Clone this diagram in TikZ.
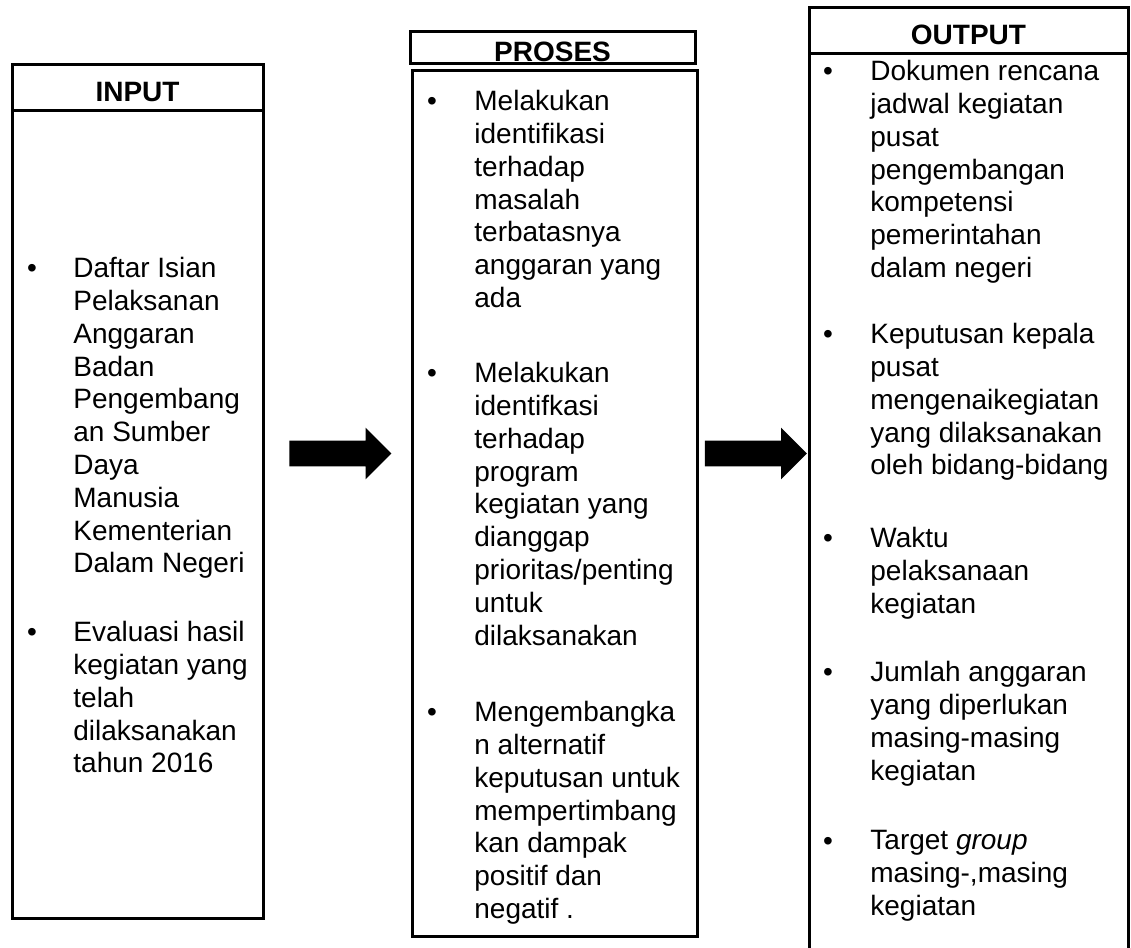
\documentclass[tikz,border=0pt]{standalone}
\usepackage{fontspec}
\setmainfont{Liberation Sans}
\usetikzlibrary{shapes.arrows}

\begin{document}
\begin{tikzpicture}[x=0.5pt, y=-0.5pt,
  box/.style={draw, line width=1.5pt, inner sep=0pt},
  headbox/.style={box, font=\fontsize{14pt}{16pt}\selectfont\bfseries, text height=14.6pt, text depth=0pt},
  itemtxt/.style={anchor=north west, align=left, inner sep=0pt, font=\fontsize{14pt}{16.4pt}\selectfont},
  dot/.style={anchor=base, inner sep=0pt, font=\fontsize{14pt}{16.4pt}\selectfont},
  blockarr/.style={single arrow, fill=black, inner sep=0pt, text height=12.5pt, text depth=0pt, minimum height=51pt, single arrow head extend=6.5pt}
]
\useasboundingbox (0,0) rectangle (1131,948);

% the three columns
\node[box, minimum width=125.5pt, minimum height=404pt] (inbody) at (137.5,514) {};
\node[headbox, minimum width=125.5pt, minimum height=23pt] (inhead) at (137.5,87) {INPUT};
\node[headbox, minimum width=142.5pt, minimum height=16pt] (prohead) at (552.5,47) {PROSES};
\node[box, minimum width=142.5pt, minimum height=433pt] (probody) at (554.5,503) {};
\node[box, minimum width=159.5pt, minimum height=458.5pt] (outbody) at (968.5,511.5) {};
\node[headbox, minimum width=159.5pt, minimum height=23pt] (outhead) at (968.5,30) {OUTPUT};

% input items
\node[dot] (indot1) at (32,277) {\textbullet};
\node[itemtxt] (initem1) at (73,257) {Daftar Isian\\Pelaksanan\\Anggaran\\Badan\\Pengembang\\an Sumber\\Daya\\Manusia\\Kementerian\\Dalam Negeri};
\node[dot] (indot2) at (32,641) {\textbullet};
\node[itemtxt] (initem2) at (73,621) {Evaluasi hasil\\kegiatan yang\\telah\\dilaksanakan\\tahun 2016};

% proses items
\node[dot] (prodot1) at (432,110) {\textbullet};
\node[itemtxt] (proitem1) at (474,90) {Melakukan\\identifikasi\\terhadap\\masalah\\terbatasnya\\anggaran yang\\ada};
\node[dot] (prodot2) at (432,382) {\textbullet};
\node[itemtxt] (proitem2) at (474,362) {Melakukan\\identifkasi\\terhadap\\program\\kegiatan yang\\dianggap\\prioritas/penting\\untuk\\dilaksanakan};
\node[dot] (prodot3) at (432,721) {\textbullet};
\node[itemtxt] (proitem3) at (474,701) {Mengembangka\\n alternatif\\keputusan untuk\\mempertimbang\\kan dampak\\positif dan\\negatif .};

% output items
\node[dot] (outdot1) at (828,80) {\textbullet};
\node[itemtxt] (outitem1) at (870,60) {Dokumen rencana\\jadwal kegiatan\\pusat\\pengembangan\\kompetensi\\pemerintahan\\dalam negeri};
\node[dot] (outdot2) at (828,343) {\textbullet};
\node[itemtxt] (outitem2) at (870,323) {Keputusan kepala\\pusat\\mengenaikegiatan\\yang dilaksanakan\\oleh bidang-bidang};
\node[dot] (outdot3) at (828,547) {\textbullet};
\node[itemtxt] (outitem3) at (870,527) {Waktu\\pelaksanaan\\kegiatan};
\node[dot] (outdot4) at (828,681) {\textbullet};
\node[itemtxt] (outitem4) at (870,661) {Jumlah anggaran\\yang diperlukan\\masing-masing\\kegiatan};
\node[dot] (outdot5) at (828,850) {\textbullet};
\node[itemtxt] (outitem5) at (870,830) {Target \textit{group}\\masing-,masing\\kegiatan};

% block arrows between the columns
\node[blockarr] (arrin) at (334,453.5) {};
\node[blockarr] (arrout) at (749.5,453.5) {};
\end{tikzpicture}
\end{document}
